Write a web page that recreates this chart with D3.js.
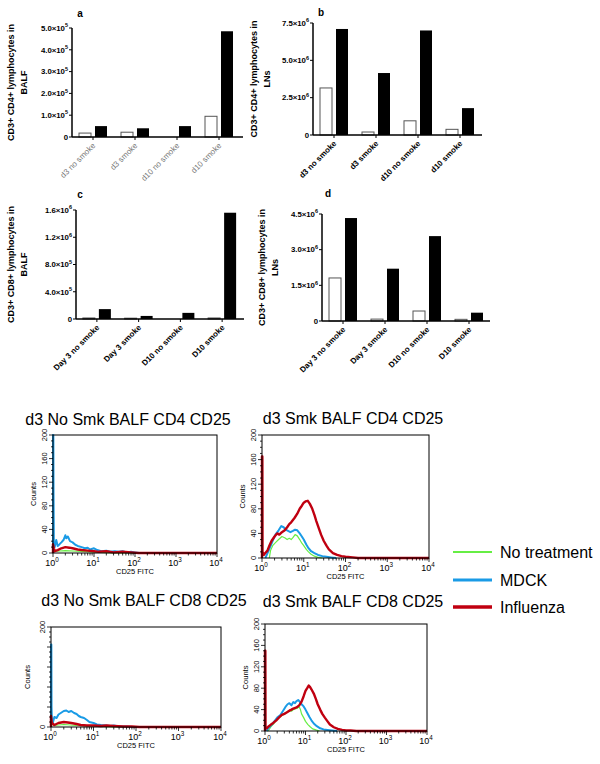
<!DOCTYPE html>
<html lang="en">
  <head>
    <meta charset="UTF-8" />
    <title>CD4 / CD8 lymphocytes and CD25 histograms</title>
    <script src="https://cdnjs.cloudflare.com/ajax/libs/d3/7.8.5/d3.min.js"></script>
    <style>
      body { margin: 0; background: #fff; }
      svg { font-family: "Liberation Sans", Arial, sans-serif; display: block; }
    </style>
  </head>
  <body>
    <script>
      // ---- bar chart data ----
      const catsA = ["d3 no smoke", "d3 smoke", "d10 no smoke", "d10 smoke"];
      const whiteA = [0.18e5, 0.22e5, 0, 0.95e5];
      const blackA = [0.5e5, 0.4e5, 0.5e5, 4.85e5];
      const ticksA = [0, 1e5, 2e5, 3e5, 4e5, 5e5];

      const catsB = ["d3 no smoke", "d3 smoke", "d10 no smoke", "d10 smoke"];
      const whiteB = [3.15e6, 0.2e6, 0.95e6, 0.38e6];
      const blackB = [7.1e6, 4.15e6, 7.0e6, 1.8e6];
      const ticksB = [0, 2.5e6, 5e6, 7.5e6];

      const catsC = ["Day 3 no smoke", "Day 3 smoke", "D10 no smoke", "D10 smoke"];
      const whiteC = [0.015e6, 0.012e6, 0, 0.015e6];
      const blackC = [1.45e5, 0.45e5, 0.9e5, 1.56e6];
      const ticksC = [0, 4e5, 8e5, 1.2e6, 1.6e6];

      const catsD = ["Day 3 no smoke", "Day 3 smoke", "D10 no smoke", "D10 smoke"];
      const whiteD = [1.81e6, 0.08e6, 0.42e6, 0.07e6];
      const blackD = [4.33e6, 2.2e6, 3.57e6, 0.35e6];
      const ticksD = [0, 1.5e6, 3e6, 4.5e6];

      // ---- histogram data: [CD25 FITC, counts] ----
      const tlGreen = [[1,0],[1,5],[1.2,3],[2,4],[4,3],[8,2],[15,1],[30,0],[10000,0]];
      const tlBlue = [[1,0],[1,200],[1.02,200],[1.03,100],[1.05,15],[1.1,10],[1.2,22],[1.3,12],[1.45,15],[1.6,18],[1.8,22],[2,30],[2.1,25],[2.3,28],[2.6,20],[3,18],[3.5,14],[4,12],[5,10],[6,8],[7,9],[8,6],[10,8],[12,5],[15,3],[20,4],[25,2],[32,3],[40,2],[50,3],[63,1],[80,2],[100,1],[130,0],[10000,0]];
      const tlRed = [[1,0],[1,15],[1.05,8],[1.1,3],[1.3,5],[1.6,8],[2,10],[2.5,9],[3,8],[4,6],[5,5],[7,4],[10,3],[13,2],[20,3],[30,1],[50,2],[80,1],[120,0],[10000,0]];

      const trGreen = [[1.5,0],[1.6,12],[1.8,20],[2.1,25],[2.5,30],[3,35],[3.5,33],[4,30],[4.5,32],[5,30],[5.5,33],[6.2,38],[7,36],[8,30],[9,24],[10,20],[11.5,14],[13,10],[15,6],[18,3],[22,1],[28,0]];
      const trBlue = [[1.2,0],[1.3,5],[1.5,15],[1.8,28],[2.1,38],[2.5,45],[2.9,52],[3.3,50],[3.7,46],[4.2,44],[4.8,42],[5.5,44],[6.2,46],[7,45],[8,40],[9,35],[10,30],[11.5,22],[13,16],[15,11],[18,8],[22,5],[28,3],[35,2],[45,1],[60,0]];
      const trRed = [[1,0],[1,165],[1.02,165],[1.03,10],[1.1,5],[1.2,8],[1.35,12],[1.5,20],[1.7,28],[2,35],[2.3,40],[2.6,38],[3,42],[3.5,45],[4,50],[4.5,55],[5,58],[6,65],[7,72],[8,80],[9,85],[10,90],[11,92],[12.5,93],[14,88],[16,80],[18,70],[20,60],[23,48],[26,38],[30,28],[35,20],[40,14],[50,8],[63,5],[80,3],[100,2],[150,1],[200,0],[10000,0]];

      const blGreen = [[1,0],[1,6],[1.2,3],[2,5],[4,3],[8,2],[15,1],[30,0],[10000,0]];
      const blBlue = [[1,0],[1,165],[1.02,165],[1.03,40],[1.05,15],[1.1,8],[1.2,20],[1.35,18],[1.5,25],[1.7,28],[2,32],[2.3,33],[2.6,30],[3,32],[3.5,28],[4,26],[4.5,22],[5,20],[6,18],[7,14],[8,10],[10,8],[12,5],[15,4],[20,3],[25,2],[30,3],[40,1],[60,1],[80,0],[10000,0]];
      const blRed = [[1,0],[1,22],[1.05,8],[1.2,4],[1.5,8],[2,10],[2.5,9],[3,8],[4,6],[5,4],[7,3],[10,3],[15,2],[20,3],[30,2],[50,1],[80,1],[120,0],[10000,0]];

      const brGreen = [[1.2,0],[1.4,8],[1.7,15],[2,22],[2.5,28],[3,32],[3.5,36],[4,38],[4.5,37],[5,40],[6,42],[7,45],[7.5,40],[8,32],[9,25],[10,18],[11.5,12],[13,8],[15,4],[18,2],[22,0]];
      const brBlue = [[1.1,0],[1.2,5],[1.4,10],[1.7,18],[2,25],[2.4,30],[2.8,38],[3.2,45],[3.6,50],[4,52],[4.5,48],[5,54],[5.5,52],[6,56],[6.6,58],[7.2,55],[8,50],[9,46],[10,40],[11,34],[12.5,26],[14,20],[16,14],[19,9],[23,5],[28,3],[35,2],[45,1],[60,0]];
      const brRed = [[1,0],[1,150],[1.02,150],[1.03,8],[1.1,5],[1.2,8],[1.4,12],[1.6,15],[1.9,20],[2.2,25],[2.6,30],[3,32],[3.5,35],[4,38],[4.5,40],[5,42],[6,44],[7,48],[8,55],[9,65],[10,75],[11,80],[12,85],[13,82],[14,78],[16,70],[18,60],[20,50],[23,40],[26,32],[30,25],[35,18],[40,12],[50,7],[63,4],[80,2],[100,1],[130,1],[180,0],[10000,0]];

      const legendNames = ["No treatment", "MDCK", "Influenza"];
      const seriesColors = ["#66ee44", "#1a9be6", "#c00010"];

      const svg = d3.select("body").append("svg").attr("width", 600).attr("height", 764);

      // superscript helper: base text + exponent
      function supText(sel, base, exp, size) {
        sel.append("tspan").text(base);
        sel.append("tspan").attr("dy", -size * 0.45).attr("font-size", size * 0.7).text(exp);
      }

      function barPanel(p) {
        const g = svg.append("g");
        const x = d3.scaleBand().domain(p.cats).range([p.left, p.right]);
        const y = d3.scaleLinear().domain([0, d3.max(p.ticks)]).range([p.bottom, p.top]);

        g.selectAll("rect.w").data(p.white).join("rect")
          .attr("x", (d, i) => x(p.cats[i]) + x.bandwidth() / 2 - 14)
          .attr("y", (d) => y(d)).attr("width", 12).attr("height", (d) => p.bottom - y(d))
          .attr("fill", "#fff").attr("stroke", d => d > 0 ? "#555" : "none").attr("stroke-width", 1);
        g.selectAll("rect.b").data(p.black).join("rect")
          .attr("x", (d, i) => x(p.cats[i]) + x.bandwidth() / 2 + 2)
          .attr("y", (d) => y(d)).attr("width", 12).attr("height", (d) => p.bottom - y(d))
          .attr("fill", "#000");

        // axes
        g.append("line").attr("x1", p.left).attr("x2", p.left).attr("y1", p.top).attr("y2", p.bottom)
          .attr("stroke", "#000").attr("stroke-width", 1.5);
        g.append("line").attr("x1", p.left).attr("x2", p.axisEnd).attr("y1", p.bottom).attr("y2", p.bottom)
          .attr("stroke", "#000").attr("stroke-width", 1.5);

        p.ticks.forEach((t) => {
          g.append("line").attr("x1", p.left - 3).attr("x2", p.left).attr("y1", y(t)).attr("y2", y(t))
            .attr("stroke", "#000").attr("stroke-width", 1);
          const tx = g.append("text").attr("x", p.left - 4).attr("y", y(t) + 2.8)
            .attr("text-anchor", "end").attr("font-size", 7.8).attr("font-weight", "bold");
          if (t === 0) tx.text("0");
          else {
            const e = Math.floor(Math.log10(t) + 1e-9);
            supText(tx, (t / Math.pow(10, e)).toFixed(1) + "\u00d710", e, 7.8);
          }
        });

        p.cats.forEach((c) => {
          const cx = x(c) + x.bandwidth() / 2;
          g.append("line").attr("x1", cx).attr("x2", cx).attr("y1", p.bottom).attr("y2", p.bottom + 3)
            .attr("stroke", "#000").attr("stroke-width", 1);
          g.append("text").attr("transform", `translate(${cx + 3},${p.bottom + 9}) rotate(-45)`)
            .attr("text-anchor", "end").attr("font-size", 8)
            .attr("font-weight", p.catWeight).attr("fill", p.catColor).text(c);
        });

        g.append("text").attr("x", p.letter[0]).attr("y", p.letter[1]).attr("text-anchor", "middle")
          .attr("font-size", 10).attr("font-weight", "bold").text(p.letterText);

        const my = (p.top + p.bottom) / 2;
        p.yLab.forEach((l, i) => {
          g.append("text").attr("transform", `translate(${p.labX[i] + 3},${my}) rotate(-90)`)
            .attr("text-anchor", "middle").attr("font-size", 9).attr("font-weight", "bold").text(l);
        });
      }

      barPanel({ cats: catsA, white: whiteA, black: blackA, ticks: ticksA, left: 72, right: 240, axisEnd: 243,
        top: 28, bottom: 137, yLab: ["CD3+ CD4+ lymphocytes in", "BALF"], labX: [11, 24], letter: [80, 17],
        letterText: "a", catColor: "#777", catWeight: "normal" });
      barPanel({ cats: catsB, white: whiteB, black: blackB, ticks: ticksB, left: 313, right: 481, axisEnd: 482,
        top: 23, bottom: 135, yLab: ["CD3+ CD4+ lymphocytes in", "LNs"], labX: [254, 267], letter: [321, 16],
        letterText: "b", catColor: "#000", catWeight: "bold" });
      barPanel({ cats: catsC, white: whiteC, black: blackC, ticks: ticksC, left: 76, right: 243, axisEnd: 244,
        top: 210, bottom: 319, yLab: ["CD3+ CD8+ lymphocytes in", "BALF"], labX: [11, 24], letter: [80, 198],
        letterText: "c", catColor: "#000", catWeight: "bold" });
      barPanel({ cats: catsD, white: whiteD, black: blackD, ticks: ticksD, left: 322, right: 490, axisEnd: 490,
        top: 214, bottom: 321, yLab: ["CD3+ CD8+ lymphocytes in", "LNs"], labX: [262, 275], letter: [328, 197],
        letterText: "d", catColor: "#000", catWeight: "bold" });

      // ---- histograms ----
      function histPanel(p) {
        const g = svg.append("g");
        const x = d3.scaleLog().domain([1, 1e4]).range([p.left, p.right]);
        const y = d3.scaleLinear().domain([0, 200]).range([p.bottom, p.top]);

        g.append("text").attr("x", p.titleX).attr("y", p.titleY).attr("text-anchor", "middle")
          .attr("font-size", 16).text(p.title);

        const line = d3.line().x((d) => x(d[0])).y((d) => y(d[1]));
        const widths = [1.2, 2, 2.4];
        p.curves.forEach((c, i) => {
          g.append("path").attr("d", line(c)).attr("fill", "none")
            .attr("stroke", seriesColors[i]).attr("stroke-width", widths[i]).attr("stroke-linejoin", "round");
        });

        g.append("rect").attr("x", p.left).attr("y", p.top).attr("width", p.right - p.left)
          .attr("height", p.bottom - p.top).attr("fill", "none").attr("stroke", "#000").attr("stroke-width", 1);

        // y ticks
        d3.range(0, 201, 10).forEach((t) => {
          const major = t % 40 === 0;
          g.append("line").attr("x1", p.left - (major ? 4 : 2)).attr("x2", p.left).attr("y1", y(t)).attr("y2", y(t))
            .attr("stroke", "#000").attr("stroke-width", 0.8);
        });
        p.yLabels.forEach((t) => {
          g.append("text").attr("transform", `translate(${p.left - 6},${y(t)}) rotate(-90)`)
            .attr("text-anchor", "middle").attr("font-size", 7.5).text(t);
        });
        g.append("text").attr("transform", `translate(${p.countsX},${(p.top + p.bottom) / 2}) rotate(-90)`)
          .attr("text-anchor", "middle").attr("font-size", 7.5).text("Counts");

        // x ticks (log minor)
        x.ticks().forEach((t) => {
          const major = Math.abs(Math.log10(t) % 1) < 1e-9;
          g.append("line").attr("x1", x(t)).attr("x2", x(t)).attr("y1", p.bottom).attr("y2", p.bottom + (major ? 4 : 2.5))
            .attr("stroke", "#000").attr("stroke-width", 0.8);
        });
        [0, 1, 2, 3, 4].forEach((e) => {
          const tx = g.append("text").attr("x", x(Math.pow(10, e)) - 1).attr("y", p.bottom + 13)
            .attr("text-anchor", "middle").attr("font-size", 9);
          supText(tx, "10", e, 9);
        });
        g.append("text").attr("x", (p.left + p.right) / 2).attr("y", p.bottom + 21).attr("text-anchor", "middle")
          .attr("font-size", 7.5).text("CD25 FITC");
      }

      histPanel({ title: "d3 No Smk BALF CD4 CD25", titleX: 128, titleY: 425, left: 53, right: 217, top: 435, bottom: 553,
        yLabels: [0, 40, 80, 120, 160, 200], countsX: 36, curves: [tlGreen, tlBlue, tlRed] });
      histPanel({ title: "d3 Smk BALF CD4 CD25", titleX: 353, titleY: 424, left: 262, right: 429, top: 435, bottom: 558,
        yLabels: [0, 40, 80, 120, 160, 200], countsX: 245, curves: [trGreen, trBlue, trRed] });
      histPanel({ title: "d3 No Smk BALF CD8 CD25", titleX: 144, titleY: 606, left: 51, right: 221, top: 627, bottom: 727,
        yLabels: [0, 200], countsX: 30, curves: [blGreen, blBlue, blRed] });
      histPanel({ title: "d3 Smk BALF CD8 CD25", titleX: 353, titleY: 607, left: 265, right: 427, top: 624, bottom: 731,
        yLabels: [0, 40, 80, 120, 160, 200], countsX: 248, curves: [brGreen, brBlue, brRed] });

      // legend
      const legendY = [552, 580, 607];
      const legendW = [2, 3, 3.5];
      legendNames.forEach((n, i) => {
        svg.append("line").attr("x1", 453).attr("x2", 492).attr("y1", legendY[i]).attr("y2", legendY[i])
          .attr("stroke", seriesColors[i]).attr("stroke-width", legendW[i]);
        svg.append("text").attr("x", 500).attr("y", legendY[i] + 5.5).attr("font-size", 16).text(n);
      });
    </script>
  </body>
</html>
